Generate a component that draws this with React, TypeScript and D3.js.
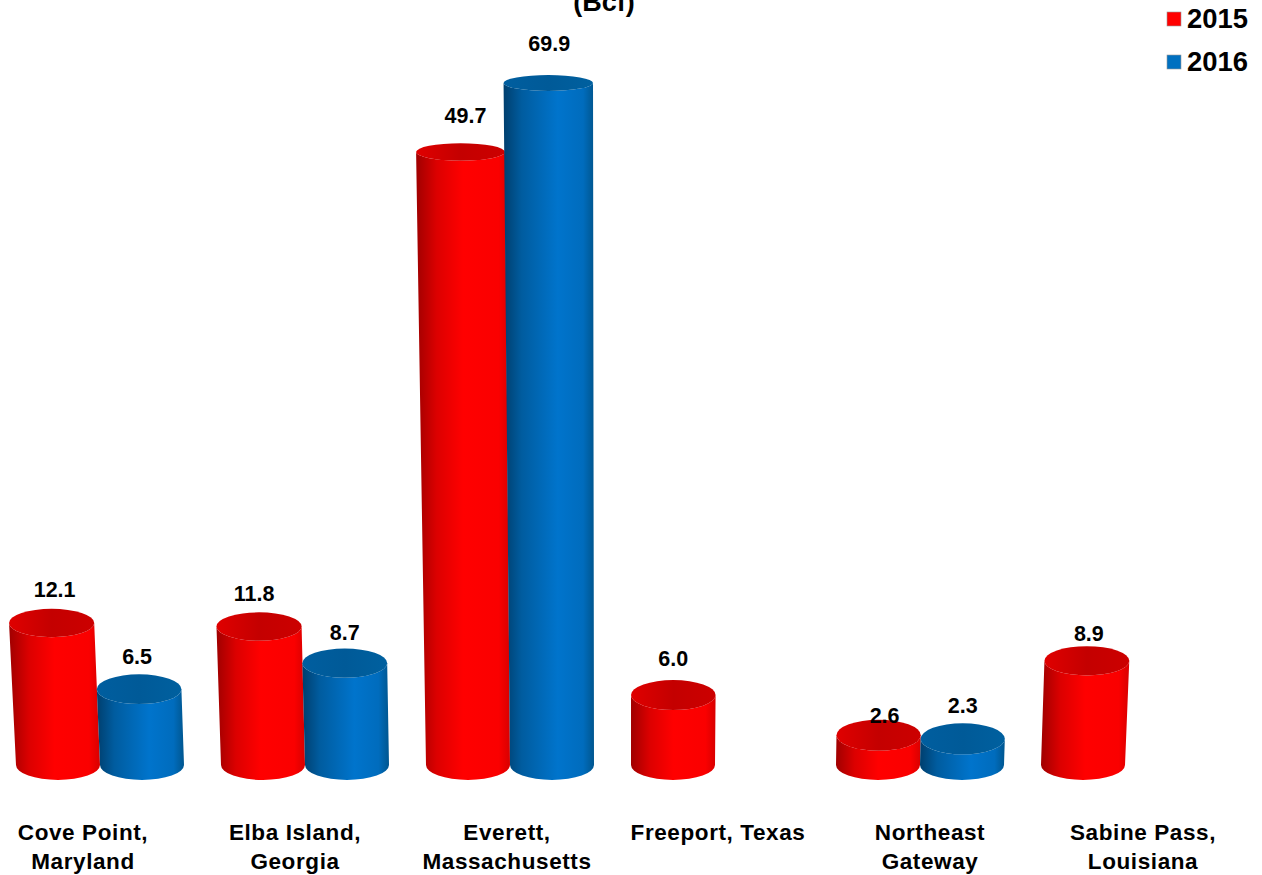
import React from "react";
import * as d3 from "d3";

const categories = ["Cove Point, Maryland", "Elba Island, Georgia", "Everett, Massachusetts", "Freeport, Texas", "Northeast Gateway", "Sabine Pass, Louisiana"];
const categoryLines = [["Cove Point,", "Maryland"], ["Elba Island,", "Georgia"], ["Everett,", "Massachusetts"], ["Freeport, Texas"], ["Northeast", "Gateway"], ["Sabine Pass,", "Louisiana"]];
const values2015 = [12.1, 11.8, 49.7, 6.0, 2.6, 8.9];
const values2016: (number | null)[] = [6.5, 8.7, 69.9, null, 2.3, null];
const years = ["2015", "2016"];

// layout (separate from the data)
const W = 1262, H = 875;
const baseY = 765, baseRy = 15, rx = 42;
const vanishX = 620, leanPerPx = 8e-5;
const categoryLabelX = [83, 295, 507, 718, 930, 1143];
const lift2015 = [33, 33, 36, 36, 19.5, 26.5];
const lift2016 = [32, 30.6, 39, 0, 33, 0];
const nudge2015 = [3, -5, 5, 0, 6, 2];
const nudge2016 = [-2, 0, 1, 0, 0, 0];

const x = d3.scaleBand<string>().domain(categories).range([-2.5, 1227.5]);
const y = d3.scaleLinear().domain([0, 12.1, 49.7, 69.9]).range([766, 623, 152, 83]);
const topRy = (cy: number) => 7 + 0.0115 * cy;
const fills = [
  { side: "gradRed", top: "gradRedTop" },
  { side: "gradBlue", top: "gradBlueTop" },
];

const leanX = (cx: number, v: number) => cx + (cx - vanishX) * (baseY - y(v)) * leanPerPx;

function Cylinder({ cx, value, s }: { cx: number; value: number; s: number }) {
  const cyTop = y(value);
  const h = baseY - cyTop;
  const tx = leanX(cx, value);
  const ry = topRy(cyTop);
  const trx = rx + h * 0.004;
  const side = `M${tx - trx},${cyTop} L${cx - rx},${baseY} A${rx},${baseRy} 0 0 0 ${cx + rx},${baseY} L${tx + trx},${cyTop} A${trx},${ry} 0 0 1 ${tx - trx},${cyTop} Z`;
  return (
    <g>
      <path d={side} fill={`url(#${fills[s].side})`} />
      <ellipse cx={tx} cy={cyTop} rx={trx} ry={ry} fill={`url(#${fills[s].top})`} />
    </g>
  );
}

export default function App() {
  const font = "'Liberation Sans', Arial, sans-serif";
  const bars: React.ReactNode[] = [];
  const labels: React.ReactNode[] = [];
  const valueLabel = (key: string, lx: number, ly: number, v: number) => (
    <text key={key} x={lx} y={ly} textAnchor="middle" dominantBaseline="central" fontSize={21.5} fontWeight="bold" fontFamily={font}>
      {v.toFixed(1)}
    </text>
  );
  categories.forEach((c, i) => {
    const boundary = x(c)! + x.bandwidth() / 2;
    const cx15 = boundary - rx;
    const cx16 = boundary + rx;
    const v15 = values2015[i];
    const v16 = values2016[i];
    bars.push(<Cylinder key={c + "15"} cx={cx15} value={v15} s={0} />);
    labels.push(valueLabel(c + "l15", leanX(cx15, v15) + nudge2015[i], y(v15) - lift2015[i], v15));
    if (v16 != null) {
      bars.push(<Cylinder key={c + "16"} cx={cx16} value={v16} s={1} />);
      labels.push(valueLabel(c + "l16", leanX(cx16, v16) + nudge2016[i], y(v16) - lift2016[i], v16));
    }
  });

  return (
    <svg width={W} height={H} style={{ position: "absolute", left: 0, top: 0, background: "#fff" }}>
      <defs>
        <linearGradient id="gradRed" x1="0" x2="1" y1="0" y2="0">
          <stop offset="0" stopColor="#a00000" />
          <stop offset="0.22" stopColor="#dc0000" />
          <stop offset="0.5" stopColor="#ff0000" />
          <stop offset="0.88" stopColor="#fa0000" />
          <stop offset="1" stopColor="#d80000" />
        </linearGradient>
        <linearGradient id="gradBlue" x1="0" x2="1" y1="0" y2="0">
          <stop offset="0" stopColor="#003f6e" />
          <stop offset="0.2" stopColor="#005c9f" />
          <stop offset="0.6" stopColor="#0074cc" />
          <stop offset="0.88" stopColor="#006cbd" />
          <stop offset="1" stopColor="#00568f" />
        </linearGradient>
        <linearGradient id="gradRedTop" x1="0" x2="1" y1="0" y2="0">
          <stop offset="0" stopColor="#e00000" />
          <stop offset="0.5" stopColor="#c40000" />
          <stop offset="1" stopColor="#cc0000" />
        </linearGradient>
        <linearGradient id="gradBlueTop" x1="0" x2="1" y1="0" y2="0">
          <stop offset="0" stopColor="#005e9f" />
          <stop offset="0.5" stopColor="#005a98" />
          <stop offset="1" stopColor="#00609f" />
        </linearGradient>
      </defs>

      <text x={604} y={11} textAnchor="middle" fontSize={27} fontWeight="bold" fontFamily={font}>(Bcf)</text>

      {bars}
      {labels}

      {categoryLines.map((lines, i) =>
        lines.map((line, j) => (
          <text key={line} x={categoryLabelX[i]} y={840 + j * 28.5} textAnchor="middle" fontSize={22.5} letterSpacing={0.6} fontWeight="bold" fontFamily={font}>
            {line}
          </text>
        ))
      )}

      {years.map((yr, i) => (
        <g key={yr}>
          <rect x={1167} y={12 + i * 43} width={14} height={14} fill={i === 0 ? "#ff0000" : "#0070c0"} stroke="#999" strokeWidth={0.6} />
          <text x={1187} y={28 + i * 43} fontSize={27.4} fontWeight="bold" fontFamily={font}>{yr}</text>
        </g>
      ))}
    </svg>
  );
}
